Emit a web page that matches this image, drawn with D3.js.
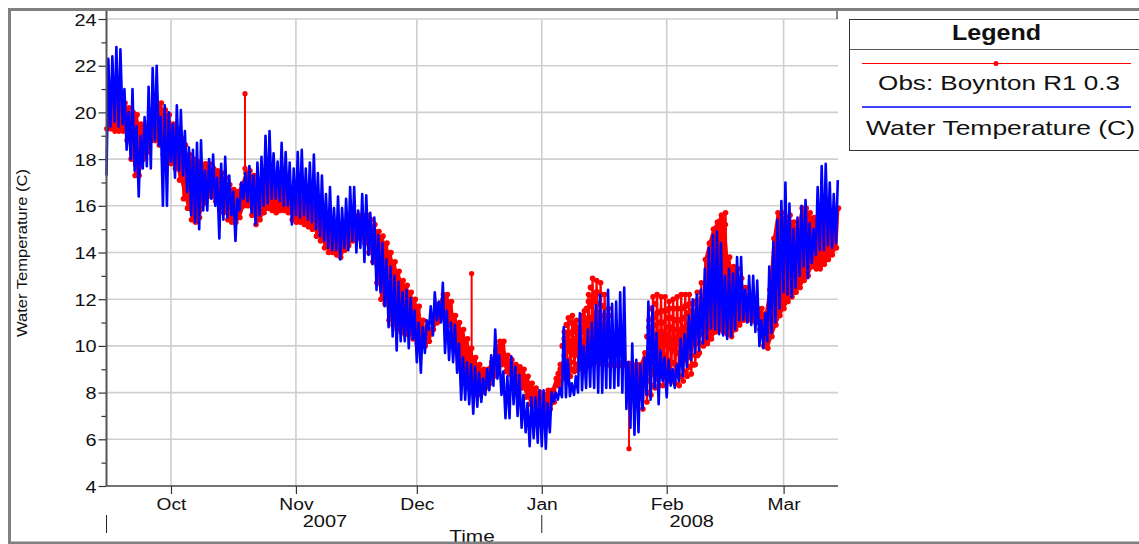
<!DOCTYPE html>
<html><head><meta charset="utf-8">
<script src="https://cdn.jsdelivr.net/npm/d3@7/dist/d3.min.js"></script>
<style>html,body{margin:0;padding:0;background:#fff}svg{display:block}text{font-family:"Liberation Sans",Arial,sans-serif;fill:#111}</style>
</head><body><div id="chart"></div>
<script>
// Day 0 = 15 Sep 2007; one value per day
const startDate = Date.UTC(2007, 8, 15);
const modelHigh = [22.3,22.4,22.8,22.7,21.0,20.0,21.0,19.4,19.0,19.8,
 21.1,21.9,22.0,19.8,20.3,20.0,19.5,20.3,20.1,19.2,
 18.5,18.4,18.7,18.8,17.5,18.0,18.2,17.2,17.8,18.1,
 17.3,16.6,16.3,17.0,17.4,17.7,17.3,17.85,18.1,19.0,
 19.2,18.25,17.9,18.7,18.3,17.85,17.6,18.3,18.4,17.6,
 17.85,18.2,17.4,17.3,16.5,16.8,15.9,16.4,15.9,16.3,
 16.8,16.8,15.8,16.5,16.45,15.7,15.5,14.75,14.4,13.7,
 13.4,13.0,12.75,12.3,12.4,12.05,11.5,11.0,10.8,11.1,
 11.7,12.3,11.9,12.7,11.5,11.0,10.9,10.1,9.5,9.3,
 9.2,9.1,8.85,8.6,9.0,9.6,10.7,9.6,8.9,8.7,
 9.55,9.1,8.75,7.9,7.55,7.8,7.8,8.1,8.1,7.55,
 8.0,8.0,8.2,10.8,9.4,8.4,8.7,11.4,10.0,10.7,
 11.0,11.75,12.2,11.5,12.4,11.8,11.9,12.3,12.5,9.3,
 10.1,9.4,9.2,9.5,11.9,11.7,10.55,9.8,9.5,9.4,
 9.0,9.2,10.3,10.5,11.3,12.0,12.2,12.4,13.3,14.2,
 14.75,14.9,14.4,13.0,13.3,13.1,13.8,13.8,12.4,13.0,
 13.0,12.8,11.1,11.4,13.4,14.45,15.4,16.2,17.0,16.1,
 15.0,15.5,16.0,16.25,15.25,15.0,16.8,17.7,17.8,17.0,16.5,17.1];
const modelLow = [17.3,19.4,19.6,19.4,19.5,18.4,18.0,17.5,16.4,17.6,
 17.7,17.6,18.8,18.6,16.0,16.0,17.9,17.2,17.5,17.3,
 16.6,15.6,15.3,15.0,15.8,15.8,16.3,16.0,14.6,15.4,
 15.5,15.6,14.5,15.8,16.3,16.2,15.7,15.2,15.6,16.0,
 16.1,16.3,16.3,16.2,16.0,16.0,15.2,15.6,15.5,15.6,
 15.4,15.3,15.0,14.7,14.5,14.2,14.1,14.1,13.7,14.2,
 14.1,14.5,14.0,14.2,13.6,13.9,13.5,12.4,12.3,11.7,
 10.8,10.4,9.8,10.2,10.2,9.9,10.3,9.3,8.85,9.7,
 10.7,10.45,11.1,11.0,9.7,9.4,9.3,8.85,7.7,7.7,
 7.5,7.1,7.4,7.6,7.9,8.1,8.3,8.6,7.9,6.9,
 6.9,7.5,7.0,6.5,6.3,5.7,6.05,5.85,5.7,5.6,
 6.3,7.6,7.7,7.8,7.8,7.85,7.9,8.0,8.1,8.2,
 8.25,8.2,8.0,8.0,8.2,8.2,8.2,8.3,8.0,7.3,
 6.5,6.2,6.3,7.3,7.9,7.7,8.2,7.5,8.5,7.8,
 8.3,8.2,8.5,8.7,9.1,9.4,9.7,9.8,10.1,10.3,
 10.75,10.7,10.5,10.45,10.3,10.4,10.7,11.1,11.1,11.0,
 10.9,10.6,10.0,9.9,10.2,10.55,11.0,11.6,12.3,12.2,
 12.1,12.5,13.0,13.4,12.9,13.55,13.9,14.1,14.1,14.3,14.2,14.4];
const obsHigh = [20.6,20.7,20.8,20.6,20.4,20.2,20.0,19.9,19.5,19.4,
 19.6,20.2,20.4,20.4,20.1,19.9,19.5,19.3,18.9,18.6,
 18.2,18.0,17.9,17.8,17.8,17.8,17.6,17.5,17.4,17.2,
 16.9,16.7,16.6,16.9,17.4,17.5,17.3,17.1,17.0,17.0,
 17.1,17.0,16.9,16.8,16.8,16.6,16.4,16.3,16.3,16.2,
 16.1,16.0,15.6,15.4,15.3,15.2,15.1,15.0,15.0,15.1,
 15.2,15.4,15.6,15.6,15.6,15.4,15.2,14.9,14.7,14.4,
 14.0,13.6,13.2,12.8,12.6,12.3,12.0,11.7,11.1,10.6,
 10.7,11.2,11.8,12.2,12.2,11.9,11.3,11.0,10.7,10.3,
 9.9,9.5,9.2,9.0,9.0,9.3,9.8,10.2,10.2,9.6,
 9.4,9.2,9.1,9.0,8.7,8.4,8.2,8.0,7.9,8.1,
 8.1,8.6,9.2,10.6,11.2,11.3,11.1,11.1,11.5,12.2,
 12.9,12.8,12.7,12.2,11.6,9.25,9.25,9.25,9.25,9.25,
 9.2,9.2,9.2,9.7,11.1,12.1,12.2,12.1,12.1,11.9,
 12.0,12.1,12.2,12.2,12.2,11.8,12.3,12.7,13.7,14.4,
 15.0,15.3,15.6,15.7,13.8,13.4,13.3,12.9,12.5,11.8,
 11.7,11.6,11.6,11.4,12.4,14.6,15.7,15.7,15.5,15.6,
 15.3,15.1,15.9,15.9,15.7,15.5,15.5,15.5,15.5,15.6,15.7,15.9];
const obsLow = [19.3,19.3,19.2,19.2,19.2,18.8,18.0,17.3,17.3,18.0,
 18.3,18.8,18.8,18.6,18.2,17.8,17.8,17.6,17.1,16.3,
 15.9,15.4,15.3,15.5,16.1,16.4,16.4,16.2,15.9,15.7,
 15.4,15.3,15.3,15.5,16.0,16.0,15.6,15.2,15.4,15.7,
 15.9,15.8,15.7,15.8,15.8,15.7,15.4,15.3,15.3,15.2,
 15.1,15.0,14.7,14.5,14.2,14.0,14.0,13.9,13.8,14.1,
 14.3,14.5,14.6,14.6,14.4,14.0,13.6,12.7,12.0,11.8,
 11.1,10.9,10.7,10.6,10.5,10.5,10.3,10.1,10.0,10.0,
 10.2,10.7,11.0,11.2,11.2,10.9,10.5,9.9,9.0,8.5,
 8.2,8.0,7.9,8.0,8.2,8.4,8.7,9.0,9.2,8.9,
 8.8,8.6,8.4,8.2,7.8,7.5,7.4,7.2,7.1,7.0,
 7.3,7.6,8.3,8.6,8.8,8.7,8.9,9.0,9.1,9.2,
 9.2,9.3,9.3,9.2,9.2,9.15,9.15,9.15,9.15,9.15,
 8.6,8.2,7.8,7.3,7.6,7.9,8.2,8.3,8.3,8.5,
 8.5,8.4,8.3,8.5,8.7,8.8,9.2,9.7,10.0,10.1,
 10.3,10.6,10.7,10.6,10.5,10.4,10.7,10.9,11.1,11.1,
 11.1,11.0,10.7,10.0,9.9,10.4,10.9,11.3,11.6,11.9,
 12.1,12.3,12.5,12.8,13.0,13.4,13.3,13.3,13.5,13.7,13.9,14.2];
// extra readings inside the speckled stretches of the observed band
const janRowStart = 112;
const janRows = [[8.5,8.8,9.0],[8.9,9.2,9.6,10.0,10.3],[9.1,9.4,9.8,10.1,10.5,10.9],[9.0,9.3,9.8,10.2,10.6,11.0],
 [9.2,9.6,9.9,10.3,10.7,10.9],[9.4,9.7,10.1,10.4,10.8],[9.5,9.8,10.2,10.6,11.0,11.3],
 [9.6,10.0,10.4,10.8,11.2,11.6,11.9],[9.6,9.9,10.3,10.8,11.2,11.7,12.1,12.5],[9.7,10.1,10.5,11.0,11.4,11.9,12.3],
 [9.6,10.0,10.4,10.9,11.3,11.8,12.2],[9.5,9.9,10.4,10.8,11.3,11.7],[9.6,10.0,10.4,10.9,11.3]];
const febRowStart = 134;
const febRows = [[8.0,8.5,9.0,9.4,9.9,10.4,10.8],[8.3,8.8,9.3,9.7,10.2,10.7,11.2,11.6],[8.6,9.0,9.5,10.0,10.4,10.9,11.4,11.8],
 [8.7,9.2,9.6,10.1,10.6,11.0,11.5],[8.7,9.1,9.6,10.0,10.5,11.0,11.5],[8.9,9.4,9.9,10.3,10.8,11.2,11.6],
 [8.9,9.3,9.8,10.3,10.7,11.2,11.6],[8.8,9.2,9.7,10.2,10.7,11.1,11.6],[8.7,9.2,9.7,10.1,10.6,11.1,11.6],
 [8.9,9.4,9.8,10.3,10.8,11.2,11.7],[9.1,9.5,10.0,10.5,10.9,11.4,11.8],[9.2,9.6,10.1,10.6,11.1,11.5],
 [9.6,10.1,10.5,11.0,11.5,11.9],[10.1,10.5,11.0,11.5,12.0]];
const spikeDays = [34.37, 90.6, 129.65, 153.6];
const spikeTops = [20.8, 13.1, 5.6, 15.2];
const spikeBases = [17.6, 9.0, 9.2, 13.4];
const monthLabels = ["Oct","Nov","Dec","Jan","Feb","Mar"];
const monthDates = [[2007,9],[2007,10],[2007,11],[2008,0],[2008,1],[2008,2]];
const yearLabels = ["2007","2008"];
const yearTicks = [startDate, Date.UTC(2008,0,1)];
const yTicksMajor = [4,6,8,10,12,14,16,18,20,22,24];
const yTicksMinor = [5,7,9,11,13,15,17,19,21,23];
const legendTitle = "Legend";
const legendItems = ["Obs: Boynton R1 0.3","Water Temperature (C)"];

const W=1139,H=544;
const M={l:106.5,r:838,t:19,b:486};
const dayMs=864e5;
const svg=d3.select("#chart").append("svg").attr("width",W).attr("height",H);
const x=d3.scaleUtc().domain([startDate,startDate+181.5*dayMs]).range([M.l,M.r]);
const y=d3.scaleLinear().domain([4,24]).range([M.b,M.t]);
const t=d=>new Date(startDate+d*dayMs);
const months=monthDates.map(m=>new Date(Date.UTC(m[0],m[1],1)));
const stretch=(sel,f)=>sel.each(function(){this.setAttribute("textLength",this.getComputedTextLength()*f);this.setAttribute("lengthAdjust","spacingAndGlyphs");});

// grid
const g=svg.append("g").attr("stroke","#cfcfcf").attr("stroke-width",1.6);
g.selectAll("line.h").data(yTicksMajor.slice(1)).join("line")
 .attr("x1",M.l).attr("x2",M.r).attr("y1",d=>y(d)).attr("y2",d=>y(d));
g.selectAll("line.v").data(months).join("line")
 .attr("y1",M.t).attr("y2",M.b).attr("x1",d=>x(d)).attr("x2",d=>x(d));

// observations
const speckled=i=>(i>=janRowStart&&i<janRowStart+janRows.length)||(i>=febRowStart&&i<febRowStart+febRows.length);
const days=d3.range(obsHigh.length);
const area=d3.area().defined(i=>!speckled(i)).x(i=>x(t(i+0.3))).y0(i=>y(obsLow[i])).y1(i=>y(obsHigh[i]));
const plot=svg.append("g");
plot.append("path").attr("d",area(days)).attr("fill","#ff0000");
const obsPts=[];
obsHigh.forEach((v,i)=>{obsPts.push([t(i+0.1),obsLow[i]]);obsPts.push([t(i+0.6),v]);});
const line=d3.line().x(d=>x(d[0])).y(d=>y(d[1]));
plot.append("path").attr("d",line(obsPts)).attr("fill","none").attr("stroke","#ff0000").attr("stroke-width",2.2);
const rowPts=[];
janRows.forEach((r,k)=>r.forEach((v,j)=>rowPts.push([t(janRowStart+k+(j%2?0.15:0.65)),v])));
febRows.forEach((r,k)=>r.forEach((v,j)=>rowPts.push([t(febRowStart+k+(j%2?0.15:0.65)),v])));
plot.selectAll("circle.o").data(obsPts).join("circle").attr("r",2.8).attr("fill","#ff0000")
 .attr("cx",d=>x(d[0])).attr("cy",d=>y(d[1]));
plot.selectAll("circle.r").data(rowPts).join("circle").attr("class","r").attr("r",3.1).attr("fill","#ff0000")
 .attr("cx",d=>x(d[0])).attr("cy",d=>y(d[1]));
spikeDays.forEach((d,i)=>{
 plot.append("path").attr("d",line([[t(d),spikeBases[i]],[t(d),spikeTops[i]]])).attr("stroke","#ff0000").attr("stroke-width",2).attr("fill","none");
 [spikeTops[i],spikeBases[i]].forEach(v=>plot.append("circle").attr("cx",x(t(d))).attr("cy",y(v)).attr("r",2.6).attr("fill","#ff0000"));
});
// model
const modPts=[];
modelHigh.forEach((v,i)=>{modPts.push([t(i),modelLow[i]]);modPts.push([t(i+0.45),v]);});
plot.append("path").attr("d",line(modPts)).attr("fill","none").attr("stroke","#0000ff").attr("stroke-width",2.6).attr("stroke-linejoin","round");

// axes
const fontTick=16;
const axL=svg.append("g").attr("transform",`translate(${M.l},0)`)
 .call(d3.axisLeft(y).tickValues(yTicksMajor).tickSize(8).tickPadding(2).tickFormat(d3.format("d")));
axL.selectAll("text").attr("font-size",fontTick).attr("dy","0.38em").call(stretch,1.24);
axL.select(".domain").remove();
axL.selectAll("line").attr("stroke","#333").attr("stroke-width",1.2);
const axM=svg.append("g").attr("transform",`translate(${M.l},0)`)
 .call(d3.axisLeft(y).tickValues(yTicksMinor).tickSize(5).tickFormat(""));
axM.select(".domain").remove();
axM.selectAll("line").attr("stroke","#333").attr("stroke-width",1.2);
svg.append("line").attr("x1",M.l).attr("x2",M.l).attr("y1",11).attr("y2",M.b).attr("stroke","#555").attr("stroke-width",2);
const axB=svg.append("g").attr("transform",`translate(0,${M.b})`)
 .call(d3.axisBottom(x).tickValues(months).tickSize(8).tickPadding(5).tickFormat((d,i)=>monthLabels[i]));
axB.selectAll("text").attr("font-size",fontTick).call(stretch,1.2);
axB.select(".domain").remove();
axB.selectAll("line").attr("stroke","#333").attr("stroke-width",1.2);
svg.append("line").attr("x1",M.l).attr("x2",M.r).attr("y1",M.b).attr("y2",M.b).attr("stroke","#444").attr("stroke-width",1.5);
svg.append("line").attr("x1",M.r-1).attr("x2",M.r-1).attr("y1",11).attr("y2",M.t).attr("stroke","#111").attr("stroke-width",1);

// year row
yearTicks.forEach(d=>svg.append("line").attr("x1",x(new Date(d))).attr("x2",x(new Date(d))).attr("y1",515).attr("y2",533).attr("stroke","#222").attr("stroke-width",1));
const yearMid=[x(t(54.2)),x(t(145.2))];
yearLabels.forEach((s,i)=>svg.append("text").attr("x",yearMid[i]).attr("y",527).attr("text-anchor","middle").attr("font-size",fontTick).text(s).call(stretch,1.25));
svg.append("text").attr("x",472).attr("y",542).attr("text-anchor","middle").attr("font-size",fontTick).text("Time").call(stretch,1.3);
svg.append("text").attr("transform","translate(27,253) rotate(-90)").attr("text-anchor","middle").attr("font-size",15.5)
 .text("Water Temperature (C)").attr("textLength",168).attr("lengthAdjust","spacingAndGlyphs");

// frame
svg.append("path").attr("d",`M${W},9.5H9.5V543H${W}`).attr("stroke","#808080").attr("fill","none").attr("stroke-width",3);

// legend
const lg=svg.append("g");
lg.append("rect").attr("x",849.5).attr("y",19.5).attr("width",W-849).attr("height",131).attr("fill","#fff").attr("stroke","#333").attr("stroke-width",1);
lg.append("line").attr("x1",849.5).attr("x2",W).attr("y1",49.5).attr("y2",49.5).attr("stroke","#555").attr("stroke-width",1.2);
lg.append("text").attr("x",996.5).attr("y",40).attr("text-anchor","middle").attr("font-size",22).attr("font-weight","bold").text(legendTitle).call(stretch,1.14);
lg.append("line").attr("x1",862).attr("x2",1131).attr("y1",63.5).attr("y2",63.5).attr("stroke","#ff0000").attr("stroke-width",1);
lg.append("circle").attr("cx",996).attr("cy",63.5).attr("r",2.5).attr("fill","#ff0000");
lg.append("line").attr("x1",862).attr("x2",1131).attr("y1",107).attr("y2",107).attr("stroke","#0000ff").attr("stroke-width",1.5);
lg.append("text").attr("x",999).attr("y",90).attr("text-anchor","middle").attr("font-size",21).text(legendItems[0]).call(stretch,1.24);
lg.append("text").attr("x",1000.5).attr("y",135).attr("text-anchor","middle").attr("font-size",21).text(legendItems[1]).call(stretch,1.26);
</script></body></html>
